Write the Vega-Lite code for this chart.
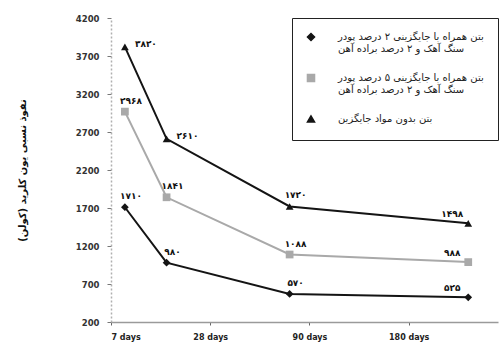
{
  "$schema": "https://vega.github.io/schema/vega-lite/v6.json",
  "width": 387,
  "height": 304,
  "autosize": {"type": "none"},
  "padding": {"left": 111, "top": 18, "right": 1, "bottom": 25},
  "background": "white",
  "config": {
    "view": {"stroke": null},
    "font": "DejaVu Sans"
  },
  "data": {
    "values": [
      {"series": "بتن همراه با جایگزینی ۲ درصد پودر سنگ آهک و ۲ درصد براده آهن", "day": 7, "value": 1710},
      {"series": "بتن همراه با جایگزینی ۲ درصد پودر سنگ آهک و ۲ درصد براده آهن", "day": 28, "value": 980},
      {"series": "بتن همراه با جایگزینی ۲ درصد پودر سنگ آهک و ۲ درصد براده آهن", "day": 90, "value": 570},
      {"series": "بتن همراه با جایگزینی ۲ درصد پودر سنگ آهک و ۲ درصد براده آهن", "day": 180, "value": 525},
      {"series": "بتن همراه با جایگزینی ۵ درصد پودر سنگ آهک و ۲ درصد براده آهن", "day": 7, "value": 2968},
      {"series": "بتن همراه با جایگزینی ۵ درصد پودر سنگ آهک و ۲ درصد براده آهن", "day": 28, "value": 1841},
      {"series": "بتن همراه با جایگزینی ۵ درصد پودر سنگ آهک و ۲ درصد براده آهن", "day": 90, "value": 1088},
      {"series": "بتن همراه با جایگزینی ۵ درصد پودر سنگ آهک و ۲ درصد براده آهن", "day": 180, "value": 988},
      {"series": "بتن بدون مواد جایگزین", "day": 7, "value": 3820},
      {"series": "بتن بدون مواد جایگزین", "day": 28, "value": 2610},
      {"series": "بتن بدون مواد جایگزین", "day": 90, "value": 1720},
      {"series": "بتن بدون مواد جایگزین", "day": 180, "value": 1498}
    ]
  },
  "transform": [
    {"calculate": "replace(replace(replace(replace(replace(replace(replace(replace(replace(replace(toString(datum.value), regexp('0','g'), '۰'), regexp('1','g'), '۱'), regexp('2','g'), '۲'), regexp('3','g'), '۳'), regexp('4','g'), '۴'), regexp('5','g'), '۵'), regexp('6','g'), '۶'), regexp('7','g'), '۷'), regexp('8','g'), '۸'), regexp('9','g'), '۹')", "as": "fa"},
    {"calculate": "datum.series == 'بتن بدون مواد جایگزین' ? 'c' : 'ab'", "as": "grp"}
  ],
  "encoding": {
    "x": {
      "field": "day",
      "type": "quantitative",
      "scale": {"domain": [0, 195], "nice": false, "zero": false},
      "axis": {
        "title": null,
        "values": [0, 50, 100, 150],
        "labelExpr": "datum.value == 0 ? '7 days' : datum.value == 50 ? '28 days' : datum.value == 100 ? '90 days' : '180 days'",
        "grid": false,
        "domainColor": "#9a9a9a",
        "domainWidth": 1.5,
        "tickColor": "#666",
        "tickSize": 3,
        "labelFont": "DejaVu Sans",
        "labelFontSize": 8,
        "labelFontWeight": "bold",
        "labelColor": "#222",
        "labelPadding": 8
      }
    },
    "y": {
      "field": "value",
      "type": "quantitative",
      "scale": {"domain": [200, 4200], "nice": false, "zero": false},
      "axis": {
        "title": "نفوذ نسبی یون کلرید (کولن)",
        "titleFont": "DejaVu Sans",
        "titleFontSize": 10,
        "titleFontWeight": "bold",
        "titleColor": "#111",
        "titlePadding": 48,
        "values": [200, 700, 1200, 1700, 2200, 2700, 3200, 3700, 4200],
        "format": "d",
        "grid": false,
        "domainColor": "#b0b0b0",
        "domainDash": [2, 2],
        "domainWidth": 1.5,
        "tickColor": "#777",
        "tickSize": 4,
        "labelFont": "DejaVu Sans",
        "labelFontSize": 8.5,
        "labelFontWeight": "bold",
        "labelColor": "#333",
        "labelPadding": 8
      }
    }
  },
  "layer": [
    {
      "mark": {"type": "line", "strokeWidth": 2},
      "encoding": {
        "detail": {"field": "series", "type": "nominal"},
        "stroke": {
          "field": "series",
          "type": "nominal",
          "scale": {
            "domain": [
              "بتن همراه با جایگزینی ۲ درصد پودر سنگ آهک و ۲ درصد براده آهن",
              "بتن همراه با جایگزینی ۵ درصد پودر سنگ آهک و ۲ درصد براده آهن",
              "بتن بدون مواد جایگزین"
            ],
            "range": ["#141414", "#a9a9a9", "#141414"]
          },
          "legend": {
            "title": null,
            "orient": "top-right",
            "offset": 0,
            "strokeColor": "#222",
            "fillColor": "white",
            "padding": 14,
            "rowPadding": 17,
            "labelFont": "DejaVu Sans",
            "labelFontSize": 10,
            "labelColor": "#222",
            "labelLimit": 260,
            "labelOffset": 22,
            "symbolSize": 50,
            "labelExpr": "split(replace(datum.label, 'پودر ', 'پودر|'), '|')"
          }
        }
      }
    },
    {
      "mark": {"type": "point", "filled": true, "opacity": 1},
      "encoding": {
        "color": {
          "field": "series",
          "type": "nominal",
          "scale": {
            "domain": [
              "بتن همراه با جایگزینی ۲ درصد پودر سنگ آهک و ۲ درصد براده آهن",
              "بتن همراه با جایگزینی ۵ درصد پودر سنگ آهک و ۲ درصد براده آهن",
              "بتن بدون مواد جایگزین"
            ],
            "range": ["#141414", "#a9a9a9", "#141414"]
          },
          "legend": null
        },
        "shape": {
          "field": "series",
          "type": "nominal",
          "scale": {
            "domain": [
              "بتن همراه با جایگزینی ۲ درصد پودر سنگ آهک و ۲ درصد براده آهن",
              "بتن همراه با جایگزینی ۵ درصد پودر سنگ آهک و ۲ درصد براده آهن",
              "بتن بدون مواد جایگزین"
            ],
            "range": ["diamond", "square", "triangle-up"]
          },
          "legend": null
        },
        "size": {"value": 60}
      }
    },
    {
      "transform": [{"filter": "datum.grp == 'c' && datum.day <= 28"}],
      "mark": {"type": "text", "align": "left", "dx": 10, "dy": -3, "fontSize": 9, "fontWeight": "bold", "color": "#111"},
      "encoding": {"text": {"field": "fa"}}
    },
    {
      "transform": [{"filter": "!(datum.grp == 'c' && datum.day <= 28) && datum.day < 180"}],
      "mark": {"type": "text", "align": "center", "dx": 6, "dy": -11, "fontSize": 9, "fontWeight": "bold", "color": "#111"},
      "encoding": {"text": {"field": "fa"}}
    },
    {
      "transform": [{"filter": "datum.day == 180"}],
      "mark": {"type": "text", "align": "center", "dx": -16, "dy": -9, "fontSize": 9, "fontWeight": "bold", "color": "#111"},
      "encoding": {"text": {"field": "fa"}}
    }
  ]
}
